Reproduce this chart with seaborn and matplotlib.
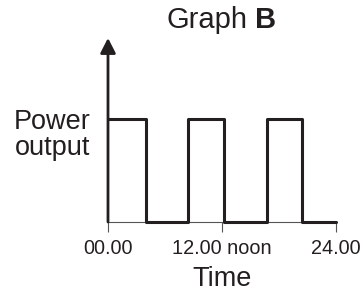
import matplotlib
matplotlib.use("Agg")
import matplotlib.pyplot as plt
import seaborn as sns
import pandas as pd

# Data
times = [0, 4, 8.4, 12.2, 16.7, 20.4, 24]
power = [1, 0, 1, 0, 1, 0, 0]
tick_pos = [0, 12, 24]
tick_labels = ["00.00", "12.00 noon", "24.00"]

sns.set_style("white")
plt.rcParams['font.family'] = ['Liberation Sans', 'DejaVu Sans']

df = pd.DataFrame({"time": times, "power": power})

fig = plt.figure(figsize=(3.63, 2.94), dpi=100)
ax = fig.add_axes([108/363, 72/294, 228/363, 184/294])
ytop = 1.778
ax.set_xlim(0, 24)
ax.set_ylim(0, ytop)

ink = '#231f20'
sns.lineplot(data=df, x="time", y="power", ax=ax, estimator=None,
             drawstyle='steps-post', color=ink, lw=2.2, clip_on=False, zorder=5)

for s in ['top', 'right', 'left']:
    ax.spines[s].set_visible(False)
ax.spines['bottom'].set_color('#555555')
ax.spines['bottom'].set_linewidth(0.8)

# y-axis with arrow
ax.annotate("", xy=(0, ytop), xytext=(0, 0), xycoords='data',
            arrowprops=dict(arrowstyle='-|>,head_length=0.45,head_width=0.23',
                            mutation_scale=20, color=ink, lw=2.0,
                            shrinkA=0, shrinkB=0),
            annotation_clip=False, zorder=6)

ax.set_yticks([])
ax.set_xticks(tick_pos)
ax.set_xticklabels(tick_labels, fontsize=14.3, color='#231f20')
ax.tick_params(axis='x', direction='out', length=7, width=0.8, color='#555555',
               pad=5, bottom=True)
ax.set_xlabel("Time", fontsize=19.5, color=ink, labelpad=6)
ax.set_ylabel("")

fig.text(91/363, 1 - 135/294, "Power\noutput", ha='right', va='center',
         fontsize=19.5, color=ink, linespacing=1.0, multialignment='center')

fig.text(167/363, 1 - 28/294, "Graph", ha='left', va='baseline',
         fontsize=21, color=ink)
fig.text(255/363, 1 - 28/294, "B", ha='left', va='baseline',
         fontsize=21, color=ink, fontweight='bold')

fig.savefig("out.png", dpi=100)
